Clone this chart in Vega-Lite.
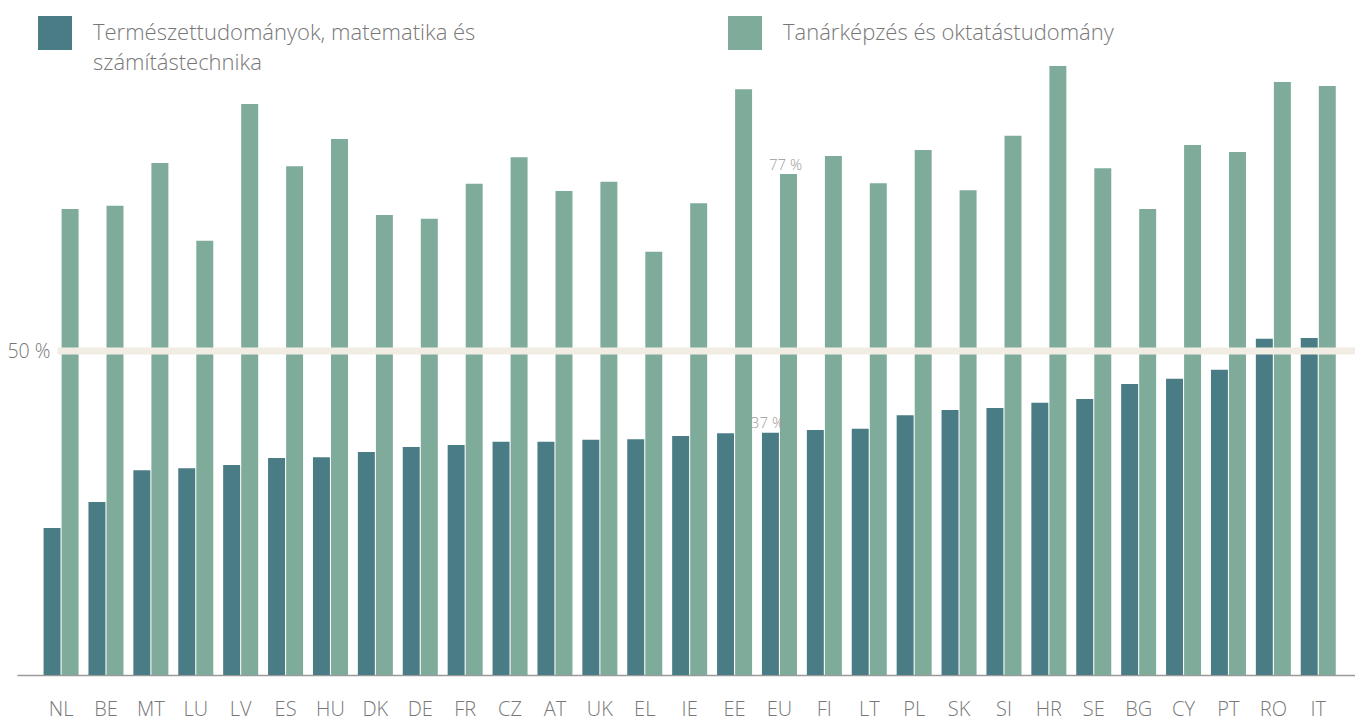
{
  "$schema": "https://vega.github.io/schema/vega-lite/v6.json",
  "width": 1338,
  "height": 648,
  "autosize": "none",
  "padding": {"left": 17, "top": 27, "right": 0, "bottom": 45},
  "background": "white",
  "config": {
    "view": {"stroke": null},
    "font": "Open Sans",
    "style": {"guide-label": {"lineHeight": 30}}
  },
  "datasets": {
    "bars": [
      {"country": "NL", "series": "Természettudományok, matematika és számítástechnika", "value": 22.7},
      {"country": "NL", "series": "Tanárképzés és oktatástudomány", "value": 71.9},
      {"country": "BE", "series": "Természettudományok, matematika és számítástechnika", "value": 26.7},
      {"country": "BE", "series": "Tanárképzés és oktatástudomány", "value": 72.4},
      {"country": "MT", "series": "Természettudományok, matematika és számítástechnika", "value": 31.6},
      {"country": "MT", "series": "Tanárképzés és oktatástudomány", "value": 79.0},
      {"country": "LU", "series": "Természettudományok, matematika és számítástechnika", "value": 31.9},
      {"country": "LU", "series": "Tanárképzés és oktatástudomány", "value": 67.0},
      {"country": "LV", "series": "Természettudományok, matematika és számítástechnika", "value": 32.4},
      {"country": "LV", "series": "Tanárképzés és oktatástudomány", "value": 88.1},
      {"country": "ES", "series": "Természettudományok, matematika és számítástechnika", "value": 33.5},
      {"country": "ES", "series": "Tanárképzés és oktatástudomány", "value": 78.5},
      {"country": "HU", "series": "Természettudományok, matematika és számítástechnika", "value": 33.6},
      {"country": "HU", "series": "Tanárképzés és oktatástudomány", "value": 82.7},
      {"country": "DK", "series": "Természettudományok, matematika és számítástechnika", "value": 34.4},
      {"country": "DK", "series": "Tanárképzés és oktatástudomány", "value": 71.0},
      {"country": "DE", "series": "Természettudományok, matematika és számítástechnika", "value": 35.2},
      {"country": "DE", "series": "Tanárképzés és oktatástudomány", "value": 70.4},
      {"country": "FR", "series": "Természettudományok, matematika és számítástechnika", "value": 35.5},
      {"country": "FR", "series": "Tanárképzés és oktatástudomány", "value": 75.8},
      {"country": "CZ", "series": "Természettudományok, matematika és számítástechnika", "value": 36.0},
      {"country": "CZ", "series": "Tanárképzés és oktatástudomány", "value": 79.9},
      {"country": "AT", "series": "Természettudományok, matematika és számítástechnika", "value": 36.0},
      {"country": "AT", "series": "Tanárképzés és oktatástudomány", "value": 74.7},
      {"country": "UK", "series": "Természettudományok, matematika és számítástechnika", "value": 36.3},
      {"country": "UK", "series": "Tanárképzés és oktatástudomány", "value": 76.1},
      {"country": "EL", "series": "Természettudományok, matematika és számítástechnika", "value": 36.4},
      {"country": "EL", "series": "Tanárképzés és oktatástudomány", "value": 65.3},
      {"country": "IE", "series": "Természettudományok, matematika és számítástechnika", "value": 36.9},
      {"country": "IE", "series": "Tanárképzés és oktatástudomány", "value": 72.8},
      {"country": "EE", "series": "Természettudományok, matematika és számítástechnika", "value": 37.3},
      {"country": "EE", "series": "Tanárképzés és oktatástudomány", "value": 90.4},
      {"country": "EU", "series": "Természettudományok, matematika és számítástechnika", "value": 37.4},
      {"country": "EU", "series": "Tanárképzés és oktatástudomány", "value": 77.3},
      {"country": "FI", "series": "Természettudományok, matematika és számítástechnika", "value": 37.8},
      {"country": "FI", "series": "Tanárképzés és oktatástudomány", "value": 80.1},
      {"country": "LT", "series": "Természettudományok, matematika és számítástechnika", "value": 38.0},
      {"country": "LT", "series": "Tanárképzés és oktatástudomány", "value": 75.9},
      {"country": "PL", "series": "Természettudományok, matematika és számítástechnika", "value": 40.1},
      {"country": "PL", "series": "Tanárképzés és oktatástudomány", "value": 81.0},
      {"country": "SK", "series": "Természettudományok, matematika és számítástechnika", "value": 40.9},
      {"country": "SK", "series": "Tanárképzés és oktatástudomány", "value": 74.8},
      {"country": "SI", "series": "Természettudományok, matematika és számítástechnika", "value": 41.2},
      {"country": "SI", "series": "Tanárképzés és oktatástudomány", "value": 83.2},
      {"country": "HR", "series": "Természettudományok, matematika és számítástechnika", "value": 42.0},
      {"country": "HR", "series": "Tanárképzés és oktatástudomány", "value": 94.0},
      {"country": "SE", "series": "Természettudományok, matematika és számítástechnika", "value": 42.6},
      {"country": "SE", "series": "Tanárképzés és oktatástudomány", "value": 78.2},
      {"country": "BG", "series": "Természettudományok, matematika és számítástechnika", "value": 44.9},
      {"country": "BG", "series": "Tanárképzés és oktatástudomány", "value": 71.9},
      {"country": "CY", "series": "Természettudományok, matematika és számítástechnika", "value": 45.7},
      {"country": "CY", "series": "Tanárképzés és oktatástudomány", "value": 81.8},
      {"country": "PT", "series": "Természettudományok, matematika és számítástechnika", "value": 47.1},
      {"country": "PT", "series": "Tanárképzés és oktatástudomány", "value": 80.7},
      {"country": "RO", "series": "Természettudományok, matematika és számítástechnika", "value": 51.9},
      {"country": "RO", "series": "Tanárképzés és oktatástudomány", "value": 91.5},
      {"country": "IT", "series": "Természettudományok, matematika és számítástechnika", "value": 52.0},
      {"country": "IT", "series": "Tanárképzés és oktatástudomány", "value": 90.9}
    ]
  },
  "layer": [
    {
      "data": {"name": "bars"},
      "mark": {"type": "bar"},
      "encoding": {
        "x": {
          "field": "country",
          "type": "nominal",
          "sort": null,
          "scale": {"paddingInner": 0.22, "paddingOuter": 0.51, "align": 0.58},
          "axis": {
            "title": null,
            "labelAngle": 0,
            "ticks": false,
            "labelFontSize": 20,
            "labelFontWeight": 300,
            "labelColor": "#777777",
            "labelPadding": 24,
            "domainColor": "#9a9a9a",
            "domainWidth": 1.5
          }
        },
        "xOffset": {
          "field": "series",
          "type": "nominal",
          "sort": null,
          "scale": {"paddingInner": 0.06, "paddingOuter": 0}
        },
        "y": {
          "field": "value",
          "type": "quantitative",
          "scale": {"domain": [0, 100], "nice": false},
          "axis": {
            "title": null,
            "values": [50],
            "labelExpr": "'50 %'",
            "ticks": false,
            "domain": false,
            "grid": false,
            "labelPadding": -33,
            "labelFontSize": 19.5,
            "labelFontWeight": 300,
            "labelColor": "#777777"
          }
        },
        "color": {
          "field": "series",
          "type": "nominal",
          "sort": null,
          "scale": {
            "domain": ["Természettudományok, matematika és számítástechnika", "Tanárképzés és oktatástudomány"],
            "range": ["#4a7c85", "#7fab9b"]
          },
          "legend": {
            "title": null,
            "orient": "none",
            "direction": "horizontal",
            "legendX": 21,
            "legendY": -11,
            "padding": 0,
            "symbolType": "square",
            "symbolSize": 1156,
            "symbolStrokeWidth": 0,
            "labelFontSize": 22,
            "labelFontWeight": 300,
            "labelColor": "#777777",
            "labelOffset": 21,
            "labelLimit": 600,
            "labelBaseline": "middle",
            "columnPadding": 252,
            "labelExpr": "datum.label == 'Természettudományok, matematika és számítástechnika' ? ['Természettudományok, matematika és', 'számítástechnika'] : [datum.label, '']"
          }
        }
      }
    },
    {
      "data": {"values": [{"level": 50}]},
      "mark": {"type": "rule", "color": "#f1ede4", "strokeWidth": 7, "strokeCap": "butt"},
      "encoding": {
        "y": {"field": "level", "type": "quantitative"},
        "x": {"datum": "NL", "bandPosition": 0.4},
        "x2": {"datum": "IT", "bandPosition": 1.56}
      }
    },
    {
      "data": {"name": "bars"},
      "transform": [
        {"filter": "datum.country == 'EU'"},
        {"calculate": "format(datum.value, '.0f') + ' %'", "as": "label"}
      ],
      "mark": {"type": "text", "baseline": "alphabetic", "dy": -4.5, "dx": -3, "fontSize": 15, "fontWeight": 300, "color": "#999999"},
      "encoding": {
        "x": {"field": "country", "type": "nominal", "sort": null},
        "xOffset": {"field": "series", "type": "nominal", "sort": null},
        "y": {"field": "value", "type": "quantitative"},
        "text": {"field": "label"}
      }
    }
  ]
}
